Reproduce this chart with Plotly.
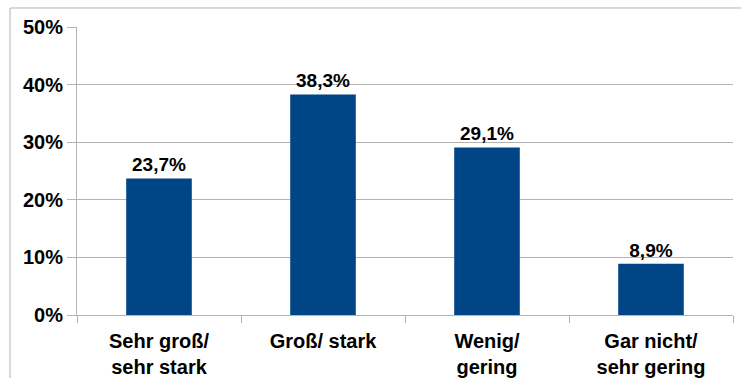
import plotly.graph_objects as go

categories = ["Sehr groß/<br>sehr stark", "Groß/ stark", "Wenig/<br>gering", "Gar nicht/<br>sehr gering"]
values = [23.7, 38.3, 29.1, 8.9]
labels = ["23,7%", "38,3%", "29,1%", "8,9%"]
y_ticks = [0, 10, 20, 30, 40, 50]

font = "Liberation Sans, Arial, sans-serif"

fig = go.Figure(go.Bar(
    x=categories, y=values, text=labels, textposition="outside",
    marker=dict(color="#004586", line=dict(width=0)),
    textfont=dict(family=font, size=19, color="black", weight="bold"),
    cliponaxis=False, width=0.4,
))

fig.update_layout(
    width=741, height=378,
    margin=dict(l=77, r=8, t=27, b=63),
    paper_bgcolor="white", plot_bgcolor="white",
    showlegend=False,
    font=dict(family=font, size=19, color="black"),
    xaxis=dict(
        showline=True, linecolor="#b3b3b3", linewidth=1,
        ticks="outside", tickson="boundaries", ticklen=7, tickcolor="#b3b3b3",
        tickfont=dict(family=font, size=20, color="black", weight="bold"),
        ticklabelstandoff=8, automargin=False,
        showgrid=False,
    ),
    yaxis=dict(
        range=[0, 50], tickvals=y_ticks, ticktext=[f"{v}%" for v in y_ticks],
        showline=True, linecolor="#b3b3b3", linewidth=1,
        ticks="outside", ticklen=9, tickcolor="#b3b3b3",
        showgrid=True, gridcolor="#b3b3b3", gridwidth=1,
        tickfont=dict(family=font, size=20, color="black", weight="bold"),
        zeroline=False, automargin=False,
    ),
    shapes=[dict(type="rect", xref="paper", yref="paper",
                 x0=-0.1021, x1=1.03, y0=-0.25, y1=1.066,
                 line=dict(color="#b3b3b3", width=1), layer="below")],
)

fig.write_html("out.html")
